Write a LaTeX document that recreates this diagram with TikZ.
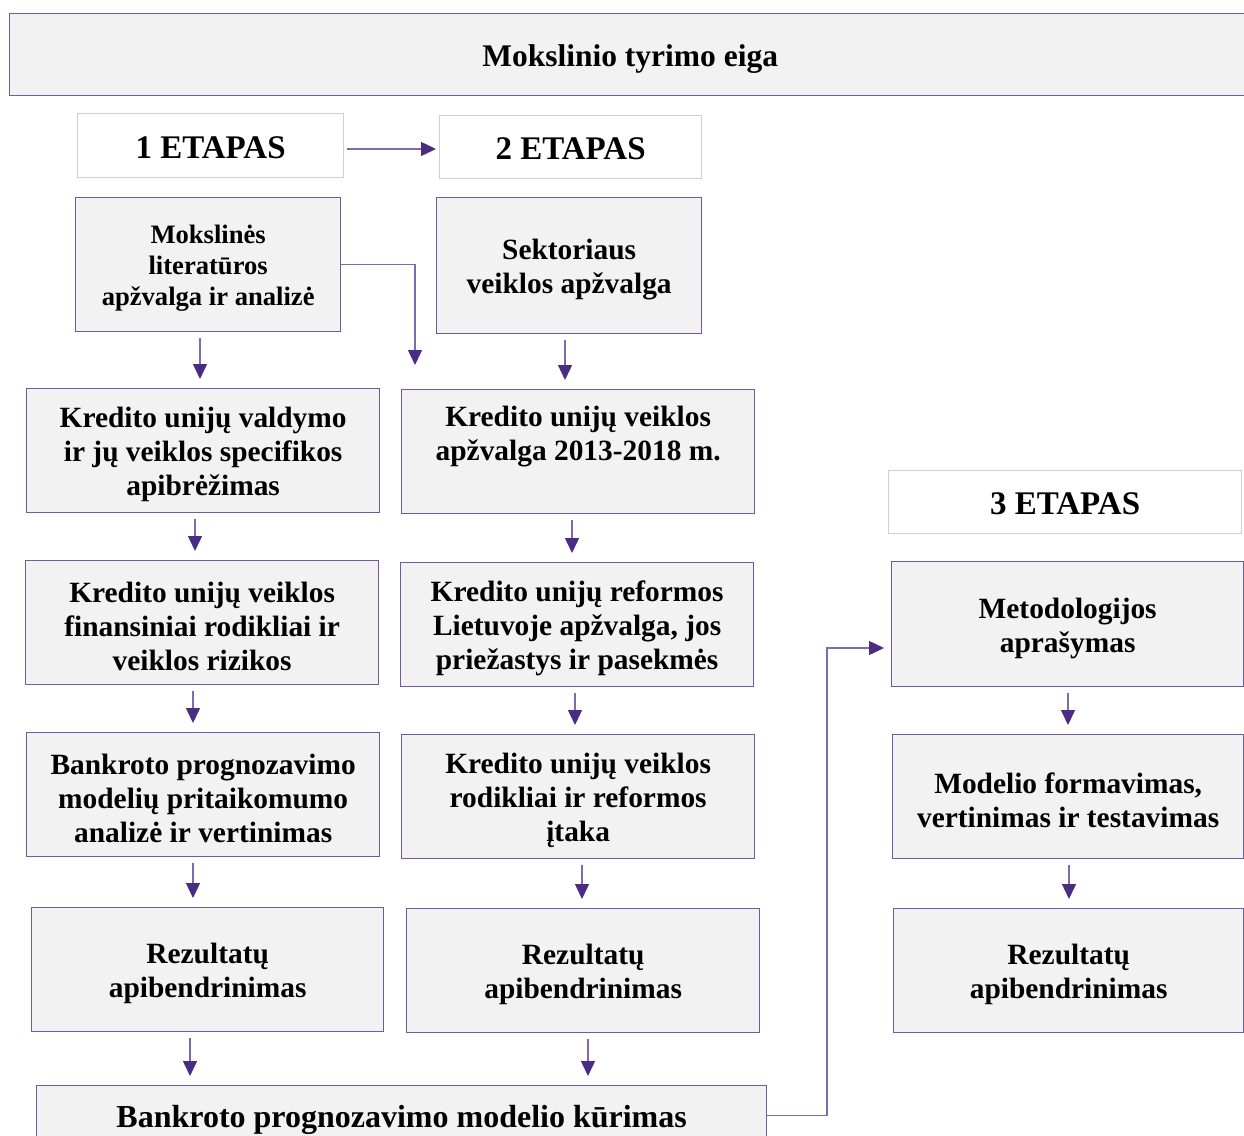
\documentclass[tikz,border=0pt]{standalone}
\usepackage{fontspec}
\setmainfont{Liberation Serif}
\usetikzlibrary{arrows.meta,calc}
\definecolor{boxfill}{HTML}{F2F2F2}
\definecolor{boxline}{HTML}{6F5C9E}
\definecolor{etline}{HTML}{CFCFCF}
\definecolor{conline}{HTML}{7E6AAE}
\definecolor{headcol}{HTML}{4A2C85}
\newcommand\mybox[6][]{%
  \node[box, minimum width=#4, minimum height=#5] (#2) at (#3) {};
  \node[txt, #1] (#2t) at ([yshift=-4pt]#2.center) {#6};}
\newcommand\myet[5]{%
  \node[etbox, minimum width=#3, minimum height=#4] (#1) at (#2) {};
  \node[txt, font=\bfseries\fontsize{33}{38}\selectfont] (#1t) at ([yshift=-2pt]#1.center) {#5};}
\begin{document}
\begin{tikzpicture}[x=1pt,y=-1pt,
 box/.style={draw=boxline, line width=1.3pt, fill=boxfill, anchor=north west, inner sep=0pt},
 etbox/.style={draw=etline, line width=1.2pt, fill=white, anchor=north west, inner sep=0pt},
 txt/.style={align=center, inner sep=0pt, font=\bfseries\fontsize{29.4}{34}\selectfont},
 arr/.style={draw=conline, line width=1.4pt, -{Triangle[width=14pt,length=15pt,color=headcol]}},
 varr/.style={arr, shorten <=6pt, shorten >=9pt},
]
\useasboundingbox (0,0) rectangle (1244,1135);
\fill[white] (0,0) rectangle (1244,1135);

\mybox[font=\bfseries\fontsize{31.5}{36}\selectfont]{title}{9,13}{1241}{82}{Mokslinio tyrimo eiga}

\myet{et1}{77,113}{266}{64}{1 ETAPAS}
\myet{et2}{439,115}{262}{63}{2 ETAPAS}
\myet{et3}{888,470}{353}{63}{3 ETAPAS}

\mybox[font=\bfseries\fontsize{26.6}{31}\selectfont]{A1}{75,197}{265}{134}{Mokslinės\\literatūros\\apžvalga ir analizė}
\mybox{B1}{436,197}{265}{136}{Sektoriaus\\veiklos apžvalga}

\mybox{A2}{26,388}{353}{124}{Kredito unijų valdymo\\ir jų veiklos specifikos\\apibrėžimas}
\mybox{B2}{401,389}{353}{124}{Kredito unijų veiklos\\apžvalga 2013-2018 m.\\\strut}

\mybox{A3}{25,560}{353}{124}{Kredito unijų veiklos\\finansiniai rodikliai ir\\veiklos rizikos}
\mybox{B3}{400,562}{353}{124}{Kredito unijų reformos\\Lietuvoje apžvalga, jos\\priežastys ir pasekmės}

\mybox{A4}{26,732}{353}{124}{Bankroto prognozavimo\\modelių pritaikomumo\\analizė ir vertinimas}
\mybox{B4}{401,734}{353}{124}{Kredito unijų veiklos\\rodikliai ir reformos\\įtaka}

\mybox{A5}{31,907}{352}{124}{Rezultatų\\apibendrinimas}
\mybox{B5}{406,908}{353}{124}{Rezultatų\\apibendrinimas}

\mybox[font=\bfseries\fontsize{32}{36}\selectfont]{bot}{36,1085}{730}{60}{Bankroto prognozavimo modelio kūrimas}

\mybox{C1}{891,561}{352}{125}{Metodologijos\\aprašymas}
\mybox{C2}{892,734}{351}{124}{Modelio formavimas,\\vertinimas ir testavimas}
\mybox{C3}{893,908}{350}{124}{Rezultatų\\apibendrinimas}

% connectors
\draw[arr, shorten <=3pt, shorten >=3pt] (et1.east |- 0,149) -- (et2.west |- 0,149);

\coordinate (free1) at (415,365);
\draw[arr] (A1.east) -| (free1);

\draw[varr] (A1.south -| 200,0) -- (A2.north -| 200,0);
\draw[varr] (B1.south -| 565,0) -- (B2.north -| 565,0);
\draw[varr] (A2.south -| 195,0) -- (A3.north -| 195,0);
\draw[varr] (B2.south -| 572,0) -- (B3.north -| 572,0);
\draw[varr] (A3.south -| 193,0) -- (A4.north -| 193,0);
\draw[varr] (B3.south -| 575,0) -- (B4.north -| 575,0);
\draw[varr] (A4.south -| 193,0) -- (A5.north -| 193,0);
\draw[varr] (B4.south -| 582,0) -- (B5.north -| 582,0);
\draw[varr] (A5.south -| 190,0) -- (bot.north -| 190,0);
\draw[varr] (B5.south -| 588,0) -- (bot.north -| 588,0);
\draw[varr] (C1.south -| 1068,0) -- (C2.north -| 1068,0);
\draw[varr] (C2.south -| 1069,0) -- (C3.north -| 1069,0);

\coordinate (bend) at (827,648);
\draw[arr, shorten >=7pt] (bot.east) -| (bend) -- (C1.west |- bend);
\end{tikzpicture}
\end{document}
